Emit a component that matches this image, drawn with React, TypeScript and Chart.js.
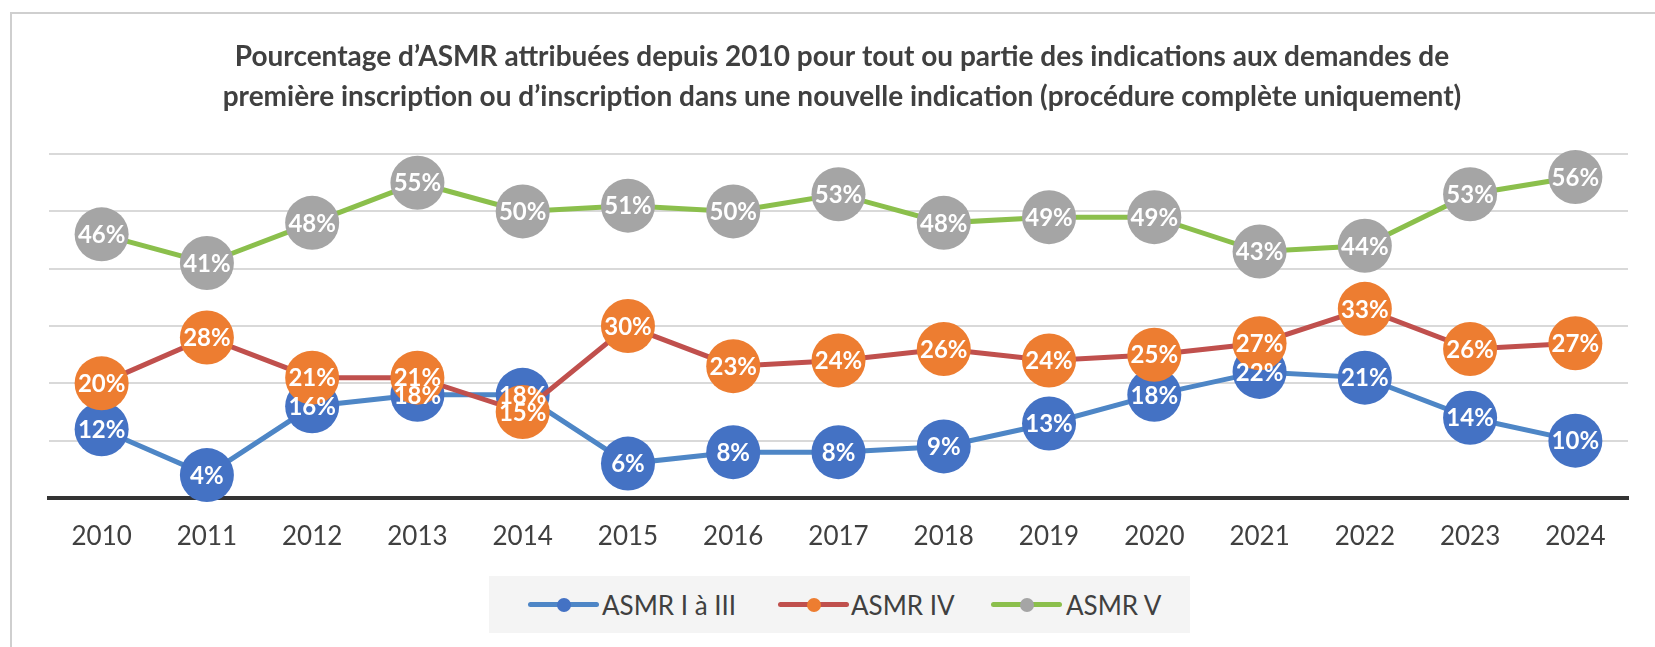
import React, { useEffect, useRef } from "react";
import { Chart, registerables } from "chart.js";

Chart.register(...registerables);

const years = ["2010", "2011", "2012", "2013", "2014", "2015", "2016", "2017", "2018", "2019", "2020", "2021", "2022", "2023", "2024"];
const asmrItoIII = [12, 4, 16, 18, 18, 6, 8, 8, 9, 13, 18, 22, 21, 14, 10];
const asmrIV = [20, 28, 21, 21, 15, 30, 23, 24, 26, 24, 25, 27, 33, 26, 27];
const asmrV = [46, 41, 48, 55, 50, 51, 50, 53, 48, 49, 49, 43, 44, 53, 56];
const seriesNames = ["ASMR I à III", "ASMR IV", "ASMR V"];
const titleLines = [
  "Pourcentage d’ASMR attribuées depuis 2010 pour tout ou partie des indications aux demandes de",
  "première inscription ou d’inscription dans une nouvelle indication (procédure complète uniquement)",
];
const yMin = 0;
const yMax = 60;
const yStep = 10;

const lineColors = ["#4e86c6", "#c0504d", "#8bbf4c"];
const pointColors = ["#4472c4", "#ed7d31", "#a5a5a5"];

const labelPlugin = {
  id: "pointValueLabels",
  afterDatasetsDraw(chart: any) {
    const ctx = chart.ctx;
    ctx.save();
    ctx.font = "bold 24px Lato";
    ctx.fillStyle = "#ffffff";
    ctx.textAlign = "center";
    ctx.textBaseline = "middle";
    chart.data.datasets.forEach((ds: any, i: number) => {
      const meta = chart.getDatasetMeta(i);
      meta.data.forEach((pt: any, j: number) => {
        ctx.fillText(ds.data[j] + "%", pt.x, pt.y + 1);
      });
    });
    ctx.restore();
  },
};

const legendItems = [
  { name: seriesNames[0], line: lineColors[0], point: pointColors[0], left: 528, textLeft: 602 },
  { name: seriesNames[1], line: lineColors[1], point: pointColors[1], left: 778, textLeft: 851 },
  { name: seriesNames[2], line: lineColors[2], point: pointColors[2], left: 991, textLeft: 1066 },
];

export default function App() {
  const canvasRef = useRef<HTMLCanvasElement | null>(null);

  useEffect(() => {
    if (!canvasRef.current) return;
    const seriesData = [asmrItoIII, asmrIV, asmrV];
    const chart = new Chart(canvasRef.current, {
      type: "line",
      data: {
        labels: years,
        datasets: seriesData.map((d, i) => ({
          label: seriesNames[i],
          data: d,
          borderColor: lineColors[i],
          backgroundColor: pointColors[i],
          pointBackgroundColor: pointColors[i],
          pointBorderColor: pointColors[i],
          pointBorderWidth: 0,
          pointRadius: 27,
          pointHoverRadius: 27,
          borderWidth: 5,
          tension: 0,
          clip: false as any,
          order: 2 - i,
        })),
      },
      options: {
        responsive: false,
        animation: false,
        devicePixelRatio: 1,
        layout: { padding: { left: 49, right: 20, top: 0, bottom: 0 } },
        plugins: {
          legend: { display: false },
          tooltip: { enabled: false },
          title: {
            display: true,
            text: titleLines,
            color: "#404040",
            font: { family: "Lato", size: 28, weight: "bold", lineHeight: 1.43 },
            padding: { top: 37, bottom: 37 },
          },
        },
        scales: {
          x: {
            offset: true,
            grid: { display: false, drawTicks: false },
            border: { display: true, color: "#333333", width: 4 },
            ticks: {
              color: "#404040",
              font: { family: "Lato", size: 26 },
              padding: 23,
              maxRotation: 0,
            },
            afterFit: (scale: any) => {
              scale.height = 149;
            },
          },
          y: {
            min: yMin,
            max: yMax,
            ticks: { display: false, stepSize: yStep },
            grid: { color: "#d9d9d9", lineWidth: 2, drawTicks: false },
            border: { display: false },
          },
        },
      },
      plugins: [labelPlugin],
    });
    return () => chart.destroy();
  }, []);

  return (
    <div style={{ position: "absolute", left: 0, top: 0, width: 1655, height: 647, overflow: "hidden", background: "#ffffff" }}>
      <div
        style={{
          position: "absolute",
          left: 10,
          top: 12,
          right: 0,
          bottom: 0,
          borderTop: "2px solid #cfcfcf",
          borderLeft: "2px solid #cfcfcf",
        }}
      />
      <canvas ref={canvasRef} width={1655} height={647} style={{ position: "absolute", left: 0, top: 0, width: 1655, height: 647 }} />
      <div style={{ position: "absolute", left: 489, top: 576, width: 701, height: 57, background: "#f4f4f4" }} />
      {legendItems.map((it) => (
        <React.Fragment key={it.name}>
          <div style={{ position: "absolute", left: it.left, top: 602, width: 71, height: 5, borderRadius: 3, background: it.line }} />
          <div style={{ position: "absolute", left: it.left + 35.5 - 7, top: 597.5, width: 14, height: 14, borderRadius: 7, background: it.point }} />
          <div
            style={{
              position: "absolute",
              left: it.textLeft,
              top: 588,
              height: 34,
              lineHeight: "34px",
              fontFamily: "Lato",
              fontSize: 26,
              color: "#404040",
              whiteSpace: "nowrap",
            }}
          >
            {it.name}
          </div>
        </React.Fragment>
      ))}
    </div>
  );
}
